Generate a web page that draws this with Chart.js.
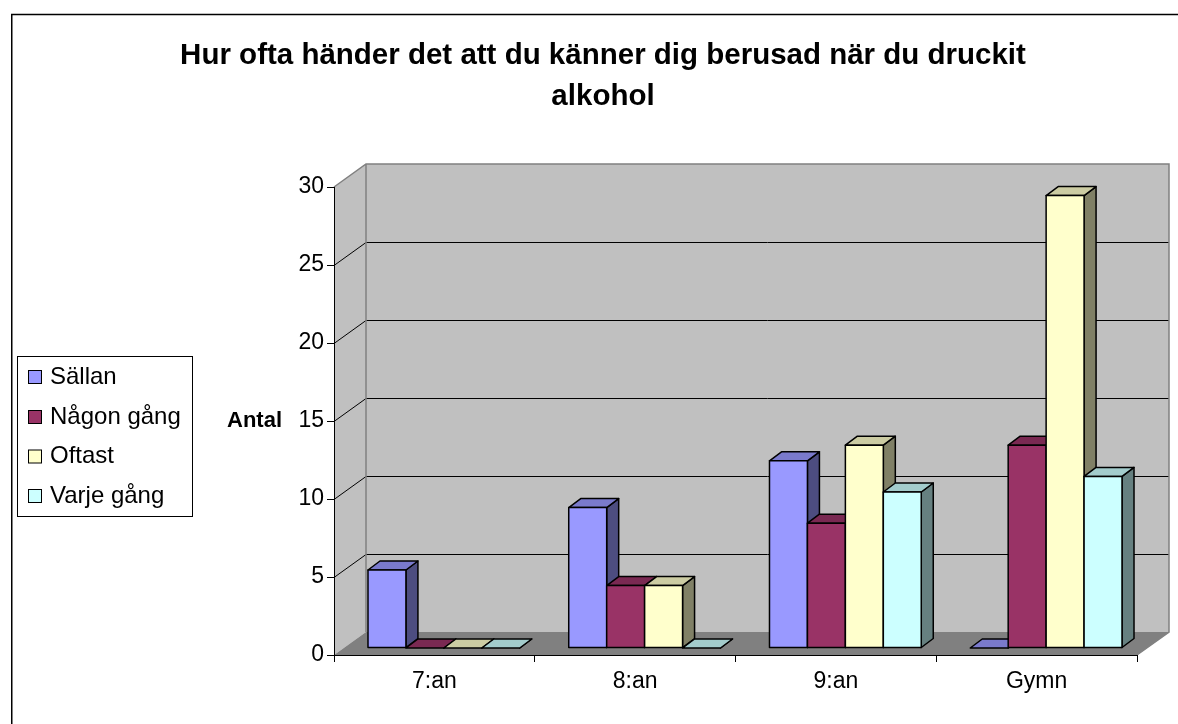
<!DOCTYPE html>
<html>
<head>
<meta charset="utf-8">
<script src="https://cdn.jsdelivr.net/npm/chart.js@4"></script>
<style>
    body { margin: 0; background: #fff; }
    canvas { display: block; }
</style>
</head>
<body>
<canvas id="chart" width="1178" height="724"></canvas>
<script>
// Data
const categories = ['7:an', '8:an', '9:an', 'Gymn'];
const seriesNames = ['Sällan', 'Någon gång', 'Oftast', 'Varje gång'];
const sallan = [5, 9, 12, 0];
const nagonGang = [0, 4, 8, 13];
const oftast = [0, 4, 13, 29];
const varjeGang = [0, 0, 10, 11];
const yTicks = [0, 5, 10, 15, 20, 25, 30];
const titleLines = ['Hur ofta händer det att du känner dig berusad när du druckit', 'alkohol'];
const yTitle = 'Antal';

// Excel style colours: front, top (darker), side (darkest)
const frontColors = ['#9999FF', '#993366', '#FFFFCC', '#CCFFFF'];
const topColors = ['#7A7ACC', '#7A2952', '#CCCCA3', '#A3CCCC'];
const sideColors = ['#4D4D80', '#4D1A33', '#808066', '#668080'];

const seriesValues = [sallan, nagonGang, oftast, varjeGang];

// 3D offsets
const DEPTH_X = 32, DEPTH_Y = -23;   // walls
const BAR_X = 9.5, BAR_Y = -7;       // bars stand a bit behind the front plane
const BAR_DX = 12, BAR_DY = -9;      // depth of one bar

Chart.defaults.font.family = "'Liberation Sans', Arial, sans-serif";
Chart.defaults.color = '#000';

function poly(ctx, pts, fill, stroke) {
    ctx.beginPath();
    ctx.moveTo(pts[0][0], pts[0][1]);
    for (let i = 1; i < pts.length; i++) ctx.lineTo(pts[i][0], pts[i][1]);
    ctx.closePath();
    if (fill) { ctx.fillStyle = fill; ctx.fill(); }
    if (stroke) { ctx.strokeStyle = stroke; ctx.stroke(); }
}

// Walls, floor and gridlines behind everything
const wallsPlugin = {
    id: 'walls',
    beforeDraw(chart) {
        const { ctx, chartArea: a } = chart;
        const yScale = chart.scales.y;
        const L = a.left, R = a.right, T = a.top, B = a.bottom;
        ctx.save();
        // side wall
        poly(ctx, [[L, T], [L + DEPTH_X, T + DEPTH_Y], [L + DEPTH_X, B + DEPTH_Y], [L, B]], '#C0C0C0');
        // back wall
        ctx.fillStyle = '#C0C0C0';
        ctx.fillRect(L + DEPTH_X, T + DEPTH_Y, R - L, B - T);
        // floor
        poly(ctx, [[L, B], [R, B], [R + DEPTH_X, B + DEPTH_Y], [L + DEPTH_X, B + DEPTH_Y]], '#808080');

        // gridlines
        ctx.lineWidth = 1;
        ctx.strokeStyle = '#000';
        yTicks.forEach(v => {
            if (v === yScale.min || v === yScale.max) return;
            const py = Math.round(yScale.getPixelForValue(v)) + 0.5;
            ctx.beginPath();
            ctx.moveTo(L, py);
            ctx.lineTo(L + DEPTH_X, py + DEPTH_Y);
            ctx.lineTo(R + DEPTH_X, py + DEPTH_Y);
            ctx.stroke();
        });

        // grey edges
        ctx.strokeStyle = '#808080';
        ctx.lineWidth = 1.5;
        ctx.beginPath();
        ctx.moveTo(L, T);
        ctx.lineTo(L + DEPTH_X, T + DEPTH_Y);
        ctx.lineTo(R + DEPTH_X, T + DEPTH_Y);
        ctx.lineTo(R + DEPTH_X, B + DEPTH_Y);
        ctx.lineTo(R, B);
        ctx.moveTo(L + DEPTH_X, T + DEPTH_Y);
        ctx.lineTo(L + DEPTH_X, B + DEPTH_Y);
        ctx.stroke();
        ctx.restore();
    }
};

// 3D boxes, drawn left to right so later fronts hide earlier sides
const barsPlugin = {
    id: 'bars3d',
    afterDatasetsDraw(chart) {
        const ctx = chart.ctx;
        ctx.save();
        ctx.translate(BAR_X, BAR_Y);
        ctx.lineWidth = 1.5;
        ctx.lineJoin = 'round';
        chart.data.datasets.forEach((ds, i) => {
            chart.getDatasetMeta(i).data.forEach(bar => {
                const { x, y, base, width } = bar.getProps(['x', 'y', 'base', 'width'], true);
                const l = x - width / 2, r = x + width / 2;
                // side
                poly(ctx, [[r, y], [r + BAR_DX, y + BAR_DY], [r + BAR_DX, base + BAR_DY], [r, base]], sideColors[i], '#000');
                // top
                poly(ctx, [[l, y], [l + BAR_DX, y + BAR_DY], [r + BAR_DX, y + BAR_DY], [r, y]], topColors[i], '#000');
                // front
                if (base - y > 0.5) {
                    poly(ctx, [[l, y], [r, y], [r, base], [l, base]], frontColors[i], '#000');
                }
            });
        });
        ctx.restore();
    }
};

// Legend, axis title and outer frame
const extrasPlugin = {
    id: 'extras',
    afterDraw(chart) {
        const ctx = chart.ctx;
        ctx.save();

        // y axis title (horizontal, like Excel)
        ctx.font = "bold 22px 'Liberation Sans', Arial, sans-serif";
        ctx.fillStyle = '#000';
        ctx.textAlign = 'left';
        ctx.textBaseline = 'middle';
        ctx.fillText(yTitle, 227, 421);

        // legend
        ctx.lineWidth = 1;
        ctx.strokeStyle = '#000';
        ctx.strokeRect(17.5, 356.5, 175, 160);
        ctx.font = "24px 'Liberation Sans', Arial, sans-serif";
        const rows = [377, 417, 456.5, 496];
        seriesNames.forEach((name, i) => {
            const cy = rows[i];
            ctx.fillStyle = frontColors[i];
            ctx.fillRect(28.5, cy - 6.5, 13, 13);
            ctx.strokeRect(28.5, cy - 6.5, 13, 13);
            ctx.fillStyle = '#000';
            ctx.fillText(name, 50, cy);
        });

        // outer frame
        ctx.lineWidth = 1.5;
        ctx.strokeRect(11.75, 14.5, 1300, 900);
        ctx.restore();
    }
};

new Chart(document.getElementById('chart'), {
    type: 'bar',
    data: {
        labels: categories,
        datasets: seriesValues.map((vals, i) => ({
            label: seriesNames[i],
            data: vals,
            backgroundColor: 'rgba(0,0,0,0)',
            borderWidth: 0,
            categoryPercentage: 0.756,
            barPercentage: 1
        }))
    },
    options: {
        responsive: false,
        animation: false,
        layout: { padding: { left: 69, right: 41, top: 0, bottom: 0 } },
        plugins: {
            legend: { display: false },
            tooltip: { enabled: false },
            title: {
                display: true,
                text: titleLines,
                color: '#000',
                font: { size: 29.5, weight: 'bold', lineHeight: '41px' },
                padding: { top: 35, bottom: 70 }
            }
        },
        scales: {
            x: {
                grid: { drawOnChartArea: false, tickLength: 7, color: '#000' },
                border: { color: '#000' },
                ticks: { padding: 6, font: { size: 23 }, color: '#000' },
                afterFit: scale => { scale.height = 69; }
            },
            y: {
                min: 0,
                max: 30,
                grid: { drawOnChartArea: false, tickLength: 7, color: '#000' },
                border: { color: '#000' },
                ticks: { stepSize: 5, padding: 3, font: { size: 23 }, color: '#000' },
                afterFit: scale => { scale.width = 265; }
            }
        }
    },
    plugins: [wallsPlugin, barsPlugin, extrasPlugin]
});
</script>
</body>
</html>
